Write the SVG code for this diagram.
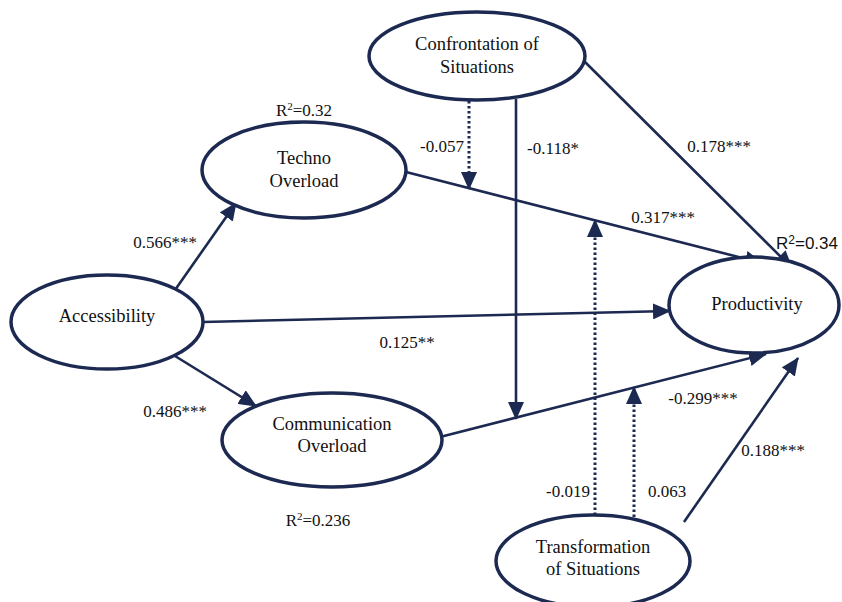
<svg xmlns="http://www.w3.org/2000/svg" width="842" height="602" viewBox="0 0 842 602">
<defs>
<marker id="ah" viewBox="0 0 18 16" refX="17" refY="8" markerWidth="18" markerHeight="16" markerUnits="userSpaceOnUse" orient="auto">
<path d="M0,0 L18,8 L0,16 Z" fill="#1c2951"/>
</marker>
</defs>
<style>
.node ellipse{fill:#fff;stroke:#1c2951;stroke-width:3.5}
.edge{stroke:#1c2951;stroke-width:2.6;fill:none;marker-end:url(#ah)}
.dot{stroke:#1c2951;stroke-width:3;fill:none;stroke-dasharray:2.5 2.5;marker-end:url(#ah)}
</style>
<rect width="842" height="602" fill="#fff"/>
<g id="connectors">
<line class="edge" x1="175" y1="290" x2="236" y2="203"/>
<line class="edge" x1="175" y1="356" x2="256" y2="406"/>
<line class="edge" x1="203" y1="322" x2="670" y2="311"/>
<line class="edge" x1="406" y1="172" x2="762" y2="263"/>
<line class="edge" x1="440" y1="437" x2="766" y2="354"/>
<line class="edge" x1="583" y1="60" x2="792" y2="268"/>
<line class="edge" x1="684" y1="522" x2="798" y2="358"/>
<line class="edge" x1="516" y1="99" x2="516" y2="419"/>
<line class="dot" x1="469" y1="101" x2="469" y2="189"/>
<line class="dot" x1="595" y1="520" x2="595" y2="220"/>
<line class="dot" x1="634" y1="517" x2="634" y2="387"/>
</g>
<g font-family="'Liberation Serif', 'Times New Roman', 'DejaVu Serif', serif" fill="#111" text-anchor="middle">
<g id="confrontation" class="node">
<ellipse cx="477" cy="56" rx="108" ry="44"/>
<text x="477" y="50" font-size="18.5">Confrontation of</text>
<text x="477" y="73" font-size="18.5">Situations</text>
</g>
<g id="techno" class="node">
<ellipse cx="304" cy="170" rx="102" ry="48"/>
<text x="304" y="164" font-size="18.5">Techno</text>
<text x="304" y="187" font-size="18.5">Overload</text>
</g>
<g id="accessibility" class="node">
<ellipse cx="107" cy="322" rx="96" ry="47"/>
<text x="107" y="322" font-size="18.5">Accessibility</text>
</g>
<g id="communication" class="node">
<ellipse cx="332" cy="440" rx="110" ry="47"/>
<text x="332" y="430" font-size="18.5">Communication</text>
<text x="332" y="452" font-size="18.5">Overload</text>
</g>
<g id="productivity" class="node">
<ellipse cx="754" cy="305" rx="85" ry="48"/>
<text x="757" y="310" font-size="18.5">Productivity</text>
</g>
<g id="transformation" class="node">
<ellipse cx="593" cy="561" rx="97" ry="46"/>
<text x="593" y="553" font-size="18.5">Transformation</text>
<text x="593" y="575" font-size="18.5">of Situations</text>
</g>
<g id="labels" font-size="17">
<text x="165" y="248">0.566***</text>
<text x="175" y="417">0.486***</text>
<text x="407" y="348">0.125**</text>
<text x="663" y="223">0.317***</text>
<text x="719" y="152">0.178***</text>
<text x="442" y="152">-0.057</text>
<text x="553" y="154">-0.118*</text>
<text x="703" y="404">-0.299***</text>
<text x="773" y="456">0.188***</text>
<text x="568" y="497">-0.019</text>
<text x="667" y="497">0.063</text>
<text x="304" y="116">R<tspan dy="-6" font-size="11">2</tspan><tspan dy="6">=0.32</tspan></text>
<text x="807" y="249" font-family="'Liberation Sans', Arial, sans-serif">R<tspan dy="-5" font-size="12">2</tspan><tspan dy="5">=0.34</tspan></text>
<text x="318" y="526">R<tspan dy="-6" font-size="11">2</tspan><tspan dy="6">=0.236</tspan></text>
</g>
</g>
</svg>
